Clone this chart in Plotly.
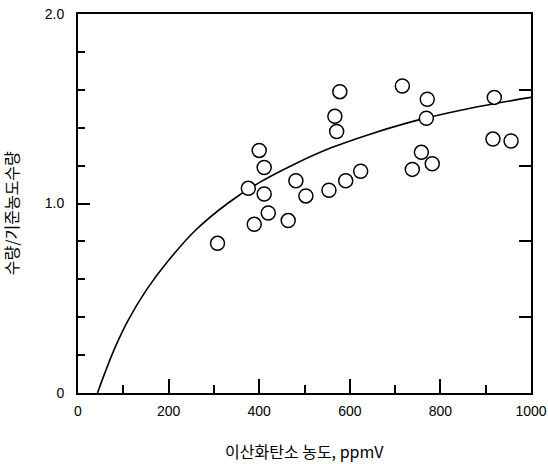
import plotly.graph_objects as go

# Observed data points (CO2 concentration ppmV, relative yield)
co2_ppmv = [308, 376, 389, 400, 411, 411, 420, 464, 481, 503, 554, 567, 571, 578,
            591, 624, 716, 738, 758, 769, 771, 782, 916, 919, 956]
rel_yield = [0.79, 1.08, 0.89, 1.28, 1.19, 1.05, 0.95, 0.91, 1.12, 1.04, 1.07, 1.46,
             1.38, 1.59, 1.12, 1.17, 1.62, 1.18, 1.27, 1.45, 1.55, 1.21, 1.34, 1.56, 1.33]

# Points
curve_x = [43, 60, 80, 110, 150, 200, 260, 330, 400, 480, 560, 650, 750, 850, 950, 1000]
curve_y = [0.00, 0.11, 0.23, 0.38, 0.54, 0.70, 0.86, 1.00, 1.11, 1.21, 1.295, 1.37,
           1.44, 1.495, 1.54, 1.56]

# Tick definitions
x_major = [0, 200, 400, 600, 800, 1000]
x_major_text = ["0", "200", "400", "600", "800", "1000"]
x_minor = [100, 300, 500, 700, 900]
y_major = [0, 1.0, 2.0]
y_major_text = ["0", "1.0", "2.0"]
y_minor = [0.2, 0.4, 0.6, 0.8, 1.2, 1.4, 1.6, 1.8]
y_right = [0.4, 0.8, 1.2, 1.6]

x_title = "이산화탄소 농도, ppmV"
y_title = "수량/기준농도수량"

font_num = "Liberation Sans, Arial, sans-serif"
font_kr = "Noto Sans CJK KR, sans-serif"

fig = go.Figure()
fig.add_trace(go.Scatter(x=curve_x, y=curve_y, mode="lines",
                         line=dict(color="black", width=1.6, shape="spline", smoothing=1.0),
                         xaxis="x", yaxis="y", hoverinfo="skip", showlegend=False))
fig.add_trace(go.Scatter(x=co2_ppmv, y=rel_yield, mode="markers",
                         marker=dict(symbol="circle", size=14, color="white",
                                     line=dict(color="black", width=1.5)),
                         xaxis="x", yaxis="y2", showlegend=False))

fig.update_layout(
    width=548, height=464,
    margin=dict(l=78, r=17, t=14, b=70.5),
    paper_bgcolor="white", plot_bgcolor="white",
    showlegend=False,
    xaxis=dict(range=[0, 1000], showgrid=False, zeroline=False, automargin=False,
               showline=True, linecolor="black", linewidth=2, mirror=True,
               tickmode="array", tickvals=x_major, ticktext=x_major_text,
               ticks="inside", ticklen=14, tickwidth=1.6, tickcolor="black",
               minor=dict(tickmode="array", tickvals=x_minor, ticks="inside",
                          ticklen=8, tickwidth=1.6, tickcolor="black", showgrid=False),
               tickfont=dict(family=font_num, size=14, color="black"),
               ticklabelstandoff=4, ticklabeloverflow="allow"),
    yaxis=dict(range=[0, 2], showgrid=False, zeroline=False, automargin=False,
               showline=True, linecolor="black", linewidth=2,
               tickmode="array", tickvals=y_major, ticktext=y_major_text,
               ticks="inside", ticklen=12, tickwidth=1.6, tickcolor="black",
               minor=dict(tickmode="array", tickvals=y_minor, ticks="inside",
                          ticklen=7, tickwidth=1.6, tickcolor="black", showgrid=False),
               tickfont=dict(family=font_num, size=14, color="black"),
               ticklabelstandoff=9, ticklabeloverflow="allow"),
    yaxis2=dict(range=[0, 2], overlaying="y", side="right", showgrid=False,
                zeroline=False, automargin=False, showline=True, linecolor="black",
                linewidth=2, tickmode="array", tickvals=y_right, ticks="inside",
                ticklen=12, tickwidth=1.6, tickcolor="black", showticklabels=False),
    annotations=[
        dict(text=x_title, xref="paper", yref="paper", x=0.5, y=-0.154,
             xanchor="center", yanchor="middle", showarrow=False,
             font=dict(family=font_kr, size=16, color="black")),
        dict(text=y_title, xref="paper", yref="paper", x=-0.149, y=0.473,
             xanchor="center", yanchor="middle", showarrow=False, textangle=-90,
             font=dict(family=font_kr, size=16, color="black")),
    ],
)

fig.write_html("out.html", config={"displayModeBar": False},
               post_script="document.body.style.margin='0';document.body.style.overflow='hidden';")
